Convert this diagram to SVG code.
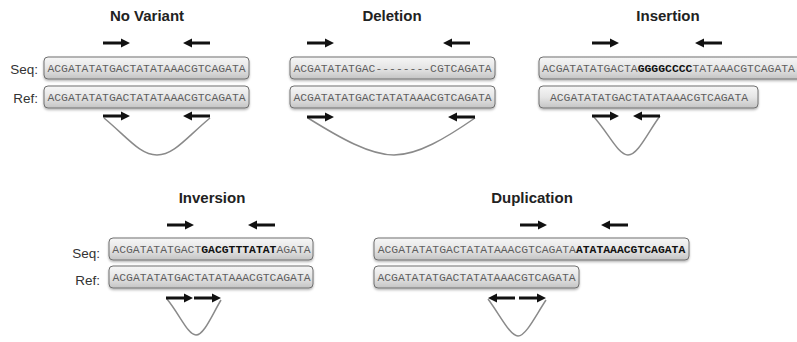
<svg xmlns="http://www.w3.org/2000/svg" xmlns:xlink="http://www.w3.org/1999/xlink" width="797" height="342" viewBox="0 0 797 342">
<defs>
<linearGradient id="boxg" x1="0" y1="0" x2="0" y2="1">
<stop offset="0" stop-color="#f6f6f6"/>
<stop offset="0.5" stop-color="#e6e6e6"/>
<stop offset="1" stop-color="#c4c4c4"/>
</linearGradient>
<filter id="sh" x="-5%" y="-20%" width="110%" height="160%">
<feDropShadow dx="0" dy="1.5" stdDeviation="1" flood-color="#000" flood-opacity="0.3"/>
</filter>
<path id="arR" d="M0,-1.6 H18 V-4.6 L27,0 L18,4.6 V1.6 H0 Z" fill="#111"/>
<path id="arL" d="M27,-1.6 H9 V-4.6 L0,0 L9,4.6 V1.6 H27 Z" fill="#111"/>
<style>
.title{font-family:"Liberation Sans",Arial,sans-serif;font-weight:bold;font-size:15px;fill:#222;text-anchor:middle}
.lab{font-family:"Liberation Sans",Arial,sans-serif;font-size:13.5px;fill:#333;text-anchor:end}
.box{fill:url(#boxg);stroke:#707070;stroke-width:1;filter:url(#sh)}
.seq{font-family:"Liberation Mono","Courier New",monospace;font-size:11.4px;fill:#5e5e5e;text-anchor:middle}
.seqs{font-family:"Liberation Mono","Courier New",monospace;font-size:11.4px;fill:#5e5e5e}
.b{font-weight:bold;fill:#111}
.curve{fill:none;stroke:#8a8a8a;stroke-width:1.5}
</style>
</defs>
<rect width="797" height="342" fill="#fff"/>

<!-- No Variant -->
<g id="novariant">
<text class="title" x="147" y="21">No Variant</text>
<text class="lab" x="38" y="74">Seq:</text>
<text class="lab" x="38" y="103">Ref:</text>
<g id="nv-seq"><rect class="box" x="44" y="57" width="205" height="22" rx="4"/><text class="seq" x="146.5" y="72">ACGATATATGACTATATAAACGTCAGATA</text></g>
<g id="nv-ref"><rect class="box" x="44" y="86" width="205" height="22" rx="4"/><text class="seq" x="146.5" y="101">ACGATATATGACTATATAAACGTCAGATA</text></g>
</g>

<!-- Deletion -->
<g id="deletion">
<text class="title" x="392" y="21">Deletion</text>
<g id="del-seq"><rect class="box" x="290" y="57" width="205" height="22" rx="4"/><text class="seq" x="392.5" y="72">ACGATATATGAC--------CGTCAGATA</text></g>
<g id="del-ref"><rect class="box" x="290" y="86" width="205" height="22" rx="4"/><text class="seq" x="392.5" y="101">ACGATATATGACTATATAAACGTCAGATA</text></g>
</g>

<!-- Insertion -->
<g id="insertion">
<text class="title" x="668" y="21">Insertion</text>
<g id="ins-seq"><rect class="box" x="539" y="57" width="262" height="22" rx="4"/><text class="seqs" x="542" y="72">ACGATATATGACTA<tspan class="b">GGGGCCCC</tspan>TATAAACGTCAGATA</text></g>
<g id="ins-ref"><rect class="box" x="539" y="86" width="219" height="22" rx="4"/><text class="seq" x="649" y="101">ACGATATATGACTATATAAACGTCAGATA</text></g>
</g>

<!-- Inversion -->
<g id="inversion">
<text class="title" x="212" y="203">Inversion</text>
<text class="lab" x="100" y="258">Seq:</text>
<text class="lab" x="100" y="285">Ref:</text>
<g id="inv-seq"><rect class="box" x="109" y="238" width="204" height="22" rx="4"/><text class="seq" x="211.5" y="253">ACGATATATGACT<tspan class="b">GACGTTTATAT</tspan>AGATA</text></g>
<g id="inv-ref"><rect class="box" x="109" y="266" width="204" height="22" rx="4"/><text class="seq" x="211.5" y="281">ACGATATATGACTATATAAACGTCAGATA</text></g>
</g>

<!-- Duplication -->
<g id="duplication">
<text class="title" x="532" y="203">Duplication</text>
<g id="dup-seq"><rect class="box" x="374" y="238" width="315" height="22" rx="4"/><text class="seq" x="531.5" y="253">ACGATATATGACTATATAAACGTCAGATA<tspan class="b">ATATAAACGTCAGATA</tspan></text></g>
<g id="dup-ref"><rect class="box" x="374" y="266" width="205" height="22" rx="4"/><text class="seq" x="476.5" y="281">ACGATATATGACTATATAAACGTCAGATA</text></g>
</g>

<!-- Connectors -->
<g id="connectors">
<path class="curve" d="M104,118 C128,138 140,155 157,155 C174,155 186,138 210,118"/>
<path class="curve" d="M308,118 C340,138 370,155 394,155 C418,155 446,138 475,118"/>
<path class="curve" d="M593,116 C608,132 618,155 628,155 C638,155 648,132 660,116"/>
<path class="curve" d="M167,299 C180,315 188,335 196,335 C204,335 212,315 221,300"/>
<path class="curve" d="M488,299 C500,315 510,336 518,336 C526,336 536,315 546,300"/>

<use xlink:href="#arR" x="103" y="43"/>
<use xlink:href="#arL" x="183" y="43"/>
<use xlink:href="#arR" x="103" y="116"/>
<use xlink:href="#arL" x="183" y="116"/>

<use xlink:href="#arR" x="307" y="43"/>
<use xlink:href="#arL" x="443" y="43"/>
<use xlink:href="#arR" x="307" y="117"/>
<use xlink:href="#arL" x="448" y="117"/>

<use xlink:href="#arR" x="592" y="43"/>
<use xlink:href="#arL" x="695" y="43"/>
<use xlink:href="#arR" x="592" y="116"/>
<use xlink:href="#arL" x="633" y="116"/>

<use xlink:href="#arR" x="167" y="225"/>
<use xlink:href="#arL" x="248" y="225"/>
<use xlink:href="#arR" x="166" y="298"/>
<use xlink:href="#arR" x="194" y="298"/>

<use xlink:href="#arR" x="520" y="225"/>
<use xlink:href="#arL" x="601" y="225"/>
<use xlink:href="#arL" x="488" y="298"/>
<use xlink:href="#arR" x="519" y="298"/>
</g>
</svg>
